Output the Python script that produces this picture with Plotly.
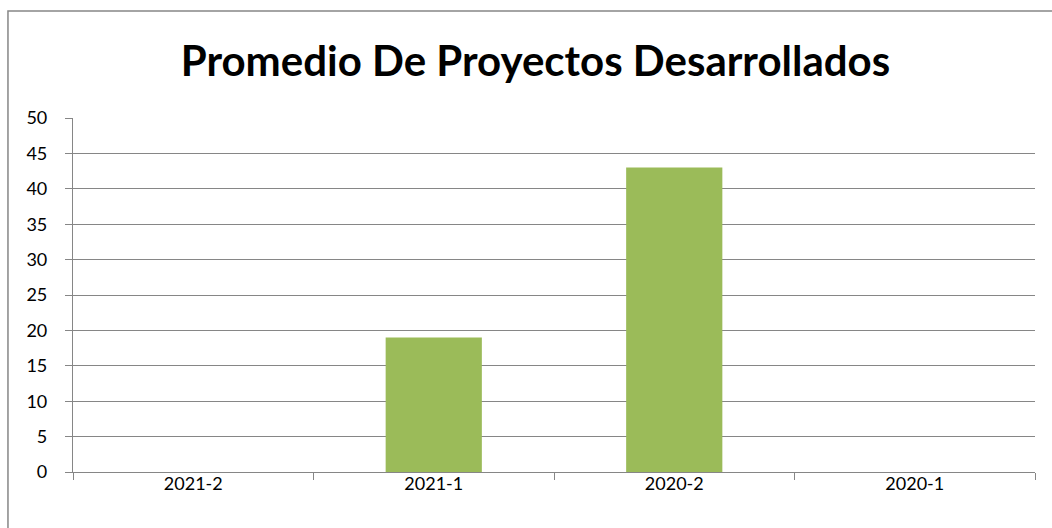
import plotly.graph_objects as go

# Datos
periodos = ["2021-2", "2021-1", "2020-2", "2020-1"]
promedios = [0, 19, 43, 0]
y_ticks = list(range(0, 55, 5))

GRID = "#868686"
FONT = "Lato"

fig = go.Figure()

fig.add_trace(go.Bar(
    x=periodos,
    y=promedios,
    marker=dict(color="#9BBB59", line=dict(width=0)),
    width=0.4,
    showlegend=False,
))

fig.update_layout(
    width=1052,
    height=528,
    margin=dict(l=73, r=17, t=118, b=56),
    paper_bgcolor="white",
    plot_bgcolor="white",
    font=dict(family=FONT, size=18, color="black"),
    title=dict(
        text="<b>Promedio De Proyectos Desarrollados</b>",
        x=0.509,
        xanchor="center",
        y=0.883,
        yanchor="middle",
        font=dict(family=FONT, size=42, color="black"),
    ),
)

fig.update_yaxes(
    range=[0, 50],
    tickvals=y_ticks,
    showgrid=True,
    gridcolor=GRID,
    gridwidth=1.2,
    showline=True,
    linecolor=GRID,
    linewidth=1.2,
    ticks="outside",
    ticklen=7,
    tickcolor=GRID,
    ticklabelstandoff=14,
    zeroline=False,
    fixedrange=True,
)

fig.update_xaxes(
    type="category",
    showgrid=False,
    showline=True,
    linecolor=GRID,
    linewidth=1.2,
    ticks="outside",
    tickson="boundaries",
    ticklen=7,
    tickcolor=GRID,
    ticklabelstandoff=-5,
    fixedrange=True,
)

# marco exterior del grafico
fig.add_shape(
    type="rect", xref="paper", yref="paper",
    x0=-0.0676, x1=1.05, y0=-0.3, y1=1.302,
    line=dict(color="#878787", width=1.5),
    layer="below",
)

# quitar el margen por defecto del body para que el grafico quede en 0,0
fig.write_html(
    "out.html",
    config={"displayModeBar": False},
    post_script="document.body.style.margin='0';",
)
